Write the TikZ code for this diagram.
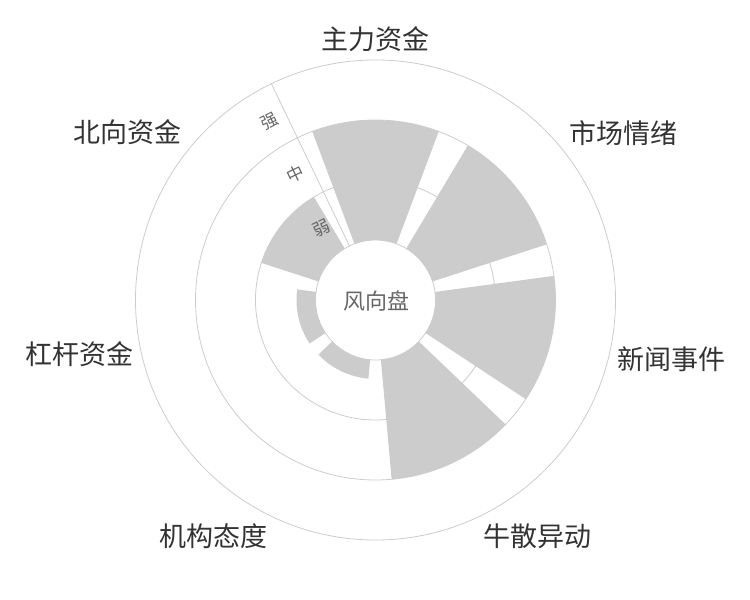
\documentclass[tikz,border=0pt]{standalone}
\usepackage{fontspec}
\setmainfont{Noto Sans CJK SC}
\definecolor{barfill}{HTML}{CCCCCC}
\definecolor{gridline}{HTML}{CCCCCC}
\definecolor{cattext}{HTML}{333333}
\definecolor{axistext}{HTML}{666666}
\tikzset{
  ring/.style={draw=gridline, line width=0.8pt},
  windbar/.style={fill=barfill},
  catlabel/.style={inner sep=0pt, text=cattext, font=\fontsize{27}{30}\selectfont},
  levellabel/.style={inner sep=0pt, text=axistext, rotate=25.71, font=\fontsize{17}{19}\selectfont}
}

\begin{document}
\begin{tikzpicture}[x=1pt, y=1pt]
\useasboundingbox (-375.5,-300) rectangle (374.5,300);
%\draw[help lines] (-300,-300) grid (300,300);
% rings and radius axis
\draw[ring] (0,0) circle [radius=60pt];
\draw[ring] (0,0) circle [radius=120pt];
\draw[ring] (0,0) circle [radius=180pt];
\draw[ring] (0,0) circle [radius=240pt];
\coordinate (axin) at (115.71:60);
\coordinate (axout) at (115.71:240);
\draw[ring] (axin) -- (axout);
% bars: mid angle / outer radius
\foreach \m/\r in {90/180, 38.57/180, -12.86/180, -64.29/180, -115.71/79, -167.14/79, 141.43/120}
{
  \pgfmathsetmacro{\a}{\m-20.57}
  \pgfmathsetmacro{\b}{\m+20.57}
  \fill[windbar] (\a:60) arc [start angle=\a, end angle=\b, radius=60pt]
    -- (\b:\r) arc [start angle=\b, end angle=\a, radius=\r pt] -- cycle;
}
% level labels
\node (weak) [levellabel] at (127.3:89.8) {弱};
\node (mid) [levellabel] at (122.6:149.1) {中};
\node (strong) [levellabel] at (120.7:207.8) {强};
\node (hub) [text=axistext, font=\fontsize{22}{24}\selectfont] at (0.8,-1.5) {风向盘};
% category labels
\node (zhuli) [catlabel, anchor=south] at (90:248) {主力资金};
\node (qingxu) [catlabel, anchor=south west] at (38.57:248) {市场情绪};
\node (xinwen) [catlabel, anchor=west, yshift=-4pt] at (-12.86:248) {新闻事件};
\node (niusan) [catlabel, anchor=north west] at (-64.29:248) {牛散异动};
\node (jigou) [catlabel, anchor=north east] at (-115.71:248) {机构态度};
\node (ganggan) [catlabel, anchor=east, yshift=1pt] at (-167.14:248) {杠杆资金};
\node (beixiang) [catlabel, anchor=south east] at (141.43:248) {北向资金};
\end{tikzpicture}
\end{document}
